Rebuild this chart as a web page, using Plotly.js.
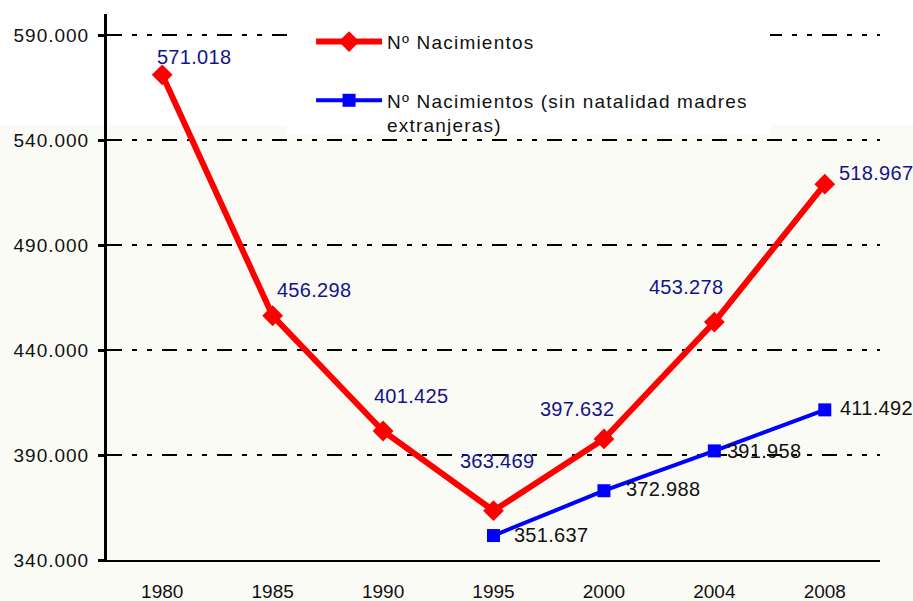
<!DOCTYPE html>
<html>
<head>
<meta charset="utf-8">
<script src="https://cdn.plot.ly/plotly-3.0.1.min.js"></script>
<style>
html,body{margin:0;padding:0;background:#fbfbf6;}
#chart{width:913px;height:601px;}
#chart .ytick text{letter-spacing:1px;}
#chart .legendtext{letter-spacing:1.2px;}
#chart .legend .scrollbox{clip-path:none !important;}
#chart .annotation-text{letter-spacing:0.3px;}
</style>
</head>
<body>
<div id="chart"></div>
<script>
// ---- data ----
var years = ['1980', '1985', '1990', '1995', '2000', '2004', '2008'];
var nacimientos = [571018, 456298, 401425, 363469, 397632, 453278, 518967];
var yearsSinExt = ['1995', '2000', '2004', '2008'];
var nacimientosSinExt = [351637, 372988, 391958, 411492];
var yTicks = [340000, 390000, 440000, 490000, 540000, 590000];
var seriesNames = ['Nº Nacimientos', 'Nº Nacimientos (sin natalidad madres<br>extranjeras)'];

// ---- label offsets (style) ----
var redShift = [[32, 18], [41, 26], [28, 35], [3, 50], [-27, 30], [-28, 35], [51, 11]];
var blueShift = [[57, 1], [59, 2], [50, 0], [52, 2]];

var font = 'Liberation Sans, Arial, sans-serif';
function fmt(v) { return Math.floor(v / 1000) + '.' + String(v % 1000).padStart(3, '0'); }

var annotations = [];
years.forEach(function (yr, i) {
  annotations.push({
    x: years.indexOf(yr), y: nacimientos[i], xref: 'x', yref: 'y', text: fmt(nacimientos[i]),
    showarrow: false, xanchor: 'center', yanchor: 'middle',
    xshift: redShift[i][0], yshift: redShift[i][1],
    font: {family: font, size: 20, color: '#14148a'}
  });
});
yearsSinExt.forEach(function (yr, i) {
  annotations.push({
    x: years.indexOf(yr), y: nacimientosSinExt[i], xref: 'x', yref: 'y', text: fmt(nacimientosSinExt[i]),
    showarrow: false, xanchor: 'center', yanchor: 'middle',
    xshift: blueShift[i][0], yshift: blueShift[i][1],
    font: {family: font, size: 20, color: '#111111'}
  });
});

var traces = [
  {
    x: years, y: nacimientos, type: 'scatter', mode: 'lines+markers', name: seriesNames[0],
    line: {color: '#ff0000', width: 6},
    marker: {symbol: 'diamond', size: 16, color: '#ff0000'},
    legendgroup: 'a'
  },
  {
    x: yearsSinExt, y: nacimientosSinExt, type: 'scatter', mode: 'lines+markers', name: seriesNames[1],
    line: {color: '#0000ff', width: 4},
    marker: {symbol: 'square', size: 13, color: '#0000ff'},
    legendgroup: 'b'
  }
];

var layout = {
  width: 913, height: 601,
  margin: {l: 107, r: 33, t: 14, b: 41},
  paper_bgcolor: '#fbfbf6',
  plot_bgcolor: 'rgba(0,0,0,0)',
  separators: ',.',
  font: {family: font, size: 19, color: '#111111'},
  showlegend: true,
  legend: {
    x: 0.264, y: 0.984, xanchor: 'left', yanchor: 'top',
    bgcolor: 'rgba(0,0,0,0)', borderwidth: 0,
    font: {family: font, size: 19, color: '#111111'},
    itemwidth: 66, traceorder: 'grouped', tracegroupgap: 31, valign: 'top'
  },
  xaxis: {
    type: 'category', categoryorder: 'array', categoryarray: years,
    range: [-0.5, 6.5],
    showline: true, linecolor: '#000000', linewidth: 2,
    showgrid: false, ticks: '', zeroline: false,
    tickfont: {family: font, size: 19, color: '#111111'},
    ticklabelstandoff: 13,
    fixedrange: true
  },
  yaxis: {
    range: [340000, 600000],
    tickvals: yTicks, tickformat: ',',
    showline: true, linecolor: '#000000', linewidth: 3,
    ticks: 'outside', ticklen: 6, tickwidth: 3, tickcolor: '#000000',
    showgrid: true, gridcolor: '#000000', gridwidth: 2,
    griddash: '15px,10px,5px,10px,5px,10px',
    zeroline: false,
    tickfont: {family: font, size: 19, color: '#111111'},
    ticklabelstandoff: 5,
    fixedrange: true
  },
  shapes: [
    {
      type: 'rect', xref: 'paper', yref: 'paper', layer: 'below',
      x0: -0.2, x1: 1.1, y0: 0.7967, y1: 1.1,
      fillcolor: '#ffffff', line: {width: 0}
    },
    {
      type: 'rect', xref: 'paper', yref: 'paper', layer: 'above',
      x0: 0.2329, x1: 0.8577, y0: 0.7784, y1: 0.9963,
      fillcolor: '#ffffff', line: {width: 0}
    }
  ],
  annotations: annotations
};

Plotly.newPlot('chart', traces, layout, {displayModeBar: false, staticPlot: true});
</script>
</body>
</html>
